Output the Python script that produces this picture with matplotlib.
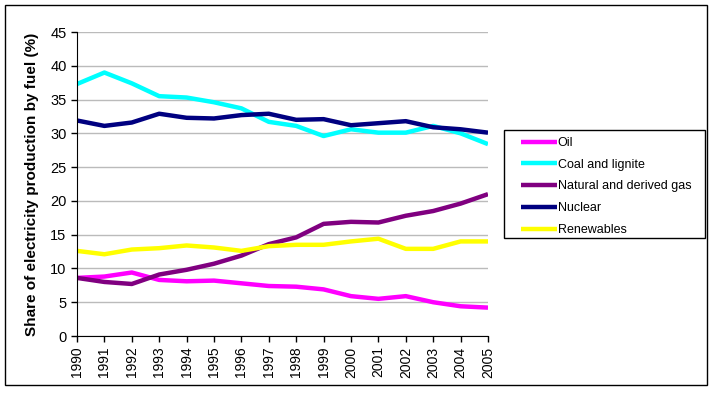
import numpy as np
import matplotlib.pyplot as plt
from matplotlib.patches import Rectangle

plt.rcParams["font.family"] = ["Liberation Sans", "DejaVu Sans"]

years = list(range(1990, 2006))
oil = [8.6, 8.8, 9.4, 8.3, 8.1, 8.2, 7.8, 7.4, 7.3, 6.9, 5.9, 5.5, 5.9, 5.0, 4.4, 4.2]
coal = [37.3, 39.0, 37.4, 35.5, 35.3, 34.6, 33.7, 31.7, 31.1, 29.6, 30.6, 30.1, 30.1, 31.1, 30.0, 28.4]
gas = [8.6, 8.0, 7.7, 9.1, 9.8, 10.7, 11.9, 13.6, 14.6, 16.6, 16.9, 16.8, 17.8, 18.5, 19.6, 21.0]
nuclear = [31.9, 31.1, 31.6, 32.9, 32.3, 32.2, 32.7, 32.9, 32.0, 32.1, 31.2, 31.5, 31.8, 30.9, 30.6, 30.1]
renew = [12.6, 12.1, 12.8, 13.0, 13.4, 13.1, 12.6, 13.3, 13.5, 13.5, 14.0, 14.4, 12.9, 12.9, 14.0, 14.0]

names = ["Oil", "Coal and lignite", "Natural and derived gas", "Nuclear", "Renewables"]
colours = ["#FF00FF", "#00FFFF", "#800080", "#000080", "#FFFF00"]

W, H = 717, 398
fig = plt.figure(figsize=(W / 100, H / 100), dpi=100)
ax = fig.add_axes([77 / W, (H - 336) / H, (488 - 77) / W, (336 - 32) / H])

for vals, name, c in zip([oil, coal, gas, nuclear, renew], names, colours):
    ax.plot(years, vals, color=c, lw=3.2, label=name, solid_capstyle="butt")

ax.set_xlim(1990, 2005)
ax.set_ylim(0, 45)
ax.set_yticks(range(0, 46, 5))
ax.set_xticks(years)
ax.set_xticklabels([str(y) for y in years], rotation=90, fontsize=10)
ax.tick_params(axis="y", labelsize=10.5, length=4, width=1, direction="out")
ax.tick_params(axis="x", length=4, width=1, direction="out")
ax.yaxis.grid(True, color="#BBBBBB", lw=1)
ax.set_axisbelow(True)
for s in ["top", "right"]:
    ax.spines[s].set_visible(False)
for s in ["left", "bottom"]:
    ax.spines[s].set_color("black")
ax.set_ylabel("Share of electricity production by fuel (%)", fontsize=11,
              fontweight="bold", labelpad=8)

# legend entries without frame, box drawn separately
leg = fig.legend(loc="upper left", bbox_to_anchor=(521 / W, 1 - 137 / H),
                 frameon=False, fontsize=9, handlelength=2.9,
                 handletextpad=0.05, borderpad=0, labelspacing=0.78,
                 borderaxespad=0)
fig.patches.append(Rectangle((504 / W, (H - 238) / H), (705 - 504) / W, (238 - 130) / H,
                             transform=fig.transFigure, fill=False,
                             edgecolor="black", lw=1))

fig.patches.append(Rectangle((5 / W, (H - 385) / H), (707 - 5) / W, (385 - 5) / H,
                             transform=fig.transFigure, fill=False,
                             edgecolor="black", lw=1))

fig.savefig("out.png", dpi=100)
